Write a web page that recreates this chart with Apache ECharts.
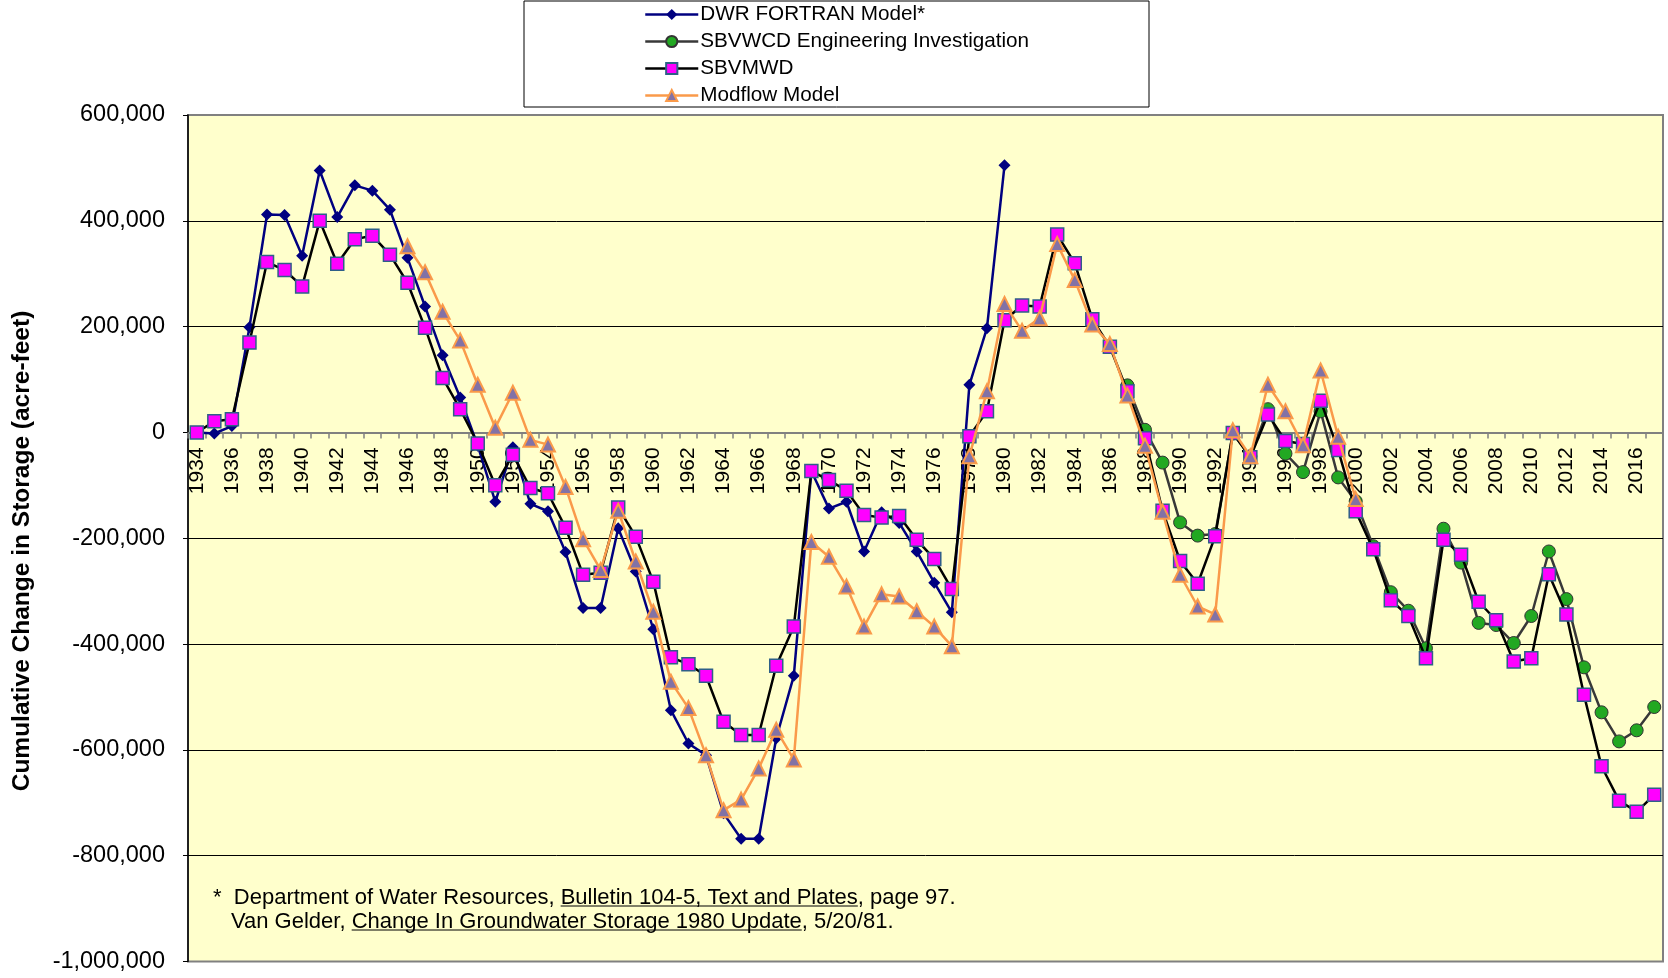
<!DOCTYPE html>
<html>
<head>
<meta charset="utf-8">
<script src="https://cdn.jsdelivr.net/npm/echarts@6/dist/echarts.min.js"></script>
<style>
html,body{margin:0;padding:0;background:#fff;}
#chart{width:1668px;height:978px;}
</style>
</head>
<body>
<div id="chart"></div>
<script>
const years = ['1934','1935','1936','1937','1938','1939','1940','1941','1942','1943','1944','1945','1946','1947','1948','1949',
'1950','1951','1952','1953','1954','1955','1956','1957','1958','1959','1960','1961','1962','1963','1964','1965','1966','1967','1968','1969',
'1970','1971','1972','1973','1974','1975','1976','1977','1978','1979','1980','1981','1982','1983','1984','1985','1986','1987','1988','1989',
'1990','1991','1992','1993','1994','1995','1996','1997','1998','1999','2000','2001','2002','2003','2004','2005','2006','2007','2008','2009',
'2010','2011','2012','2013','2014','2015','2016','2017'];

// DWR FORTRAN Model* : 1934-1980
const dwr = [0,-2000,12000,199000,412000,411000,334000,495000,407000,467000,457000,421000,330000,238000,146000,66000,
-25000,-131000,-28000,-135000,-149000,-226000,-332000,-332000,-181000,-263000,-372000,-525000,-588000,-610000,-720000,-768000,-768000,-578000,-460000,-73000,
-144000,-131000,-225000,-151000,-171000,-225000,-284000,-340000,90000,197000,505000];

// SBVWCD Engineering Investigation : 1987-2017
const sbvwcdStart = '1987';
const sbvwcd = [89000,5000,-57000,-170000,-195000,-192000,-2000,-45000,44000,-40000,-75000,40000,-85000,-130000,
-215000,-302000,-337000,-408000,-182000,-246000,-360000,-364000,-398000,-347000,-225000,-315000,-444000,-529000,-584000,-563000,-519000];

// SBVMWD : 1934-2017
const sbvmwd = [0,21000,25000,170000,322000,307000,276000,400000,319000,365000,372000,336000,283000,198000,103000,44000,
-21000,-100000,-42000,-105000,-115000,-180000,-269000,-265000,-142000,-197000,-282000,-425000,-438000,-460000,-547000,-572000,-572000,-441000,-367000,-73000,
-90000,-110000,-156000,-161000,-158000,-203000,-239000,-296000,-7000,40000,212000,240000,238000,374000,320000,214000,162000,78000,-11000,-148000,
-243000,-286000,-196000,-1000,-47000,34000,-16000,-22000,60000,-33000,-149000,-221000,-317000,-347000,-427000,-203000,-231000,-320000,-355000,-433000,
-427000,-268000,-344000,-496000,-631000,-696000,-717000,-685000];

// Modflow Model : 1946-2000
const modflowStart = '1946';
const modflow = [352000,303000,228000,174000,90000,9000,75000,-14000,-23000,-103000,-202000,-260000,-148000,-244000,
-339000,-471000,-521000,-610000,-714000,-694000,-635000,-562000,-618000,-207000,-235000,-291000,-367000,-306000,-310000,-338000,-367000,-404000,
-45000,78000,243000,192000,216000,356000,288000,204000,167000,70000,-25000,-150000,-269000,-329000,-344000,4000,-45000,90000,40000,-24000,117000,-8000,-126000];

const yTicks = {min:-1000000, max:600000, interval:200000};

function align(values, startYear){
  const out = new Array(years.length).fill(null);
  const s = years.indexOf(startYear);
  values.forEach((v,i)=>{ out[s+i] = v; });
  return out;
}

const FONT = '"Liberation Sans", Arial, sans-serif';
const chart = echarts.init(document.getElementById('chart'), null, {renderer:'canvas'});

const GRID = {left:188, right:5, top:115, bottom:16.5};
const plotH = 978 - GRID.top - GRID.bottom;
// distance from grid bottom up to the zero line
const zeroOffset = plotH * (0 - yTicks.min) / (yTicks.max - yTicks.min);

// footnote builder (underlined segments)
const cv = document.createElement('canvas').getContext('2d');
const fnSize = 22;
cv.font = fnSize + 'px ' + FONT;
function footLine(segs, x, y){
  const els = [];
  let cx = x;
  segs.forEach(([t,u])=>{
    const w = cv.measureText(t).width;
    els.push({type:'text', x:cx, y:y, style:{text:t, font:fnSize+'px '+FONT, fill:'#000', textAlign:'left', textVerticalAlign:'middle'}});
    if(u){
      els.push({type:'line', shape:{x1:cx, y1:y+8, x2:cx+w, y2:y+8}, style:{stroke:'#000', lineWidth:1.2}});
    }
    cx += w;
  });
  return els;
}
const foot = [].concat(
  footLine([['*  ',false],['Department of Water Resources, ',false],['Bulletin 104-5, Text and Plates',true],[', page 97.',false]], 213, 898),
  footLine([['Van Gelder, ',false],['Change In Groundwater Storage 1980 Update',true],[', 5/20/81.',false]], 231, 922)
);

const legendNames = ['DWR FORTRAN Model*','SBVWCD Engineering Investigation','SBVMWD','Modflow Model'];

const option = {
  animation:false,
  backgroundColor:'#ffffff',
  textStyle:{fontFamily:FONT},
  grid:{left:GRID.left, right:GRID.right, top:GRID.top, bottom:GRID.bottom, show:true, backgroundColor:'#FFFFCC', borderColor:'#808080', borderWidth:2, outerBoundsMode:'none', containLabel:false},
  legend:{
    orient:'vertical', left:644, top:4, itemWidth:53, itemHeight:14, itemGap:6,
    padding:0,
    textStyle:{fontSize:20.7, lineHeight:20, color:'#000', fontFamily:FONT, padding:[0,0,0,-3]},
    data:legendNames.map(n=>({name:n, lineStyle:{width:2.5}})),
    z:10
  },
  graphic:[
    {type:'rect', shape:{x:524, y:1, width:625, height:106}, style:{fill:'#fff', stroke:'#000', lineWidth:1}, z:1},
    {type:'text', x:22, y:551, rotation:Math.PI/2, style:{text:'Cumulative Change in Storage (acre-feet)', font:'bold 24.5px '+FONT, fill:'#000', textAlign:'center', textVerticalAlign:'middle'}}
  ].concat(foot),
  xAxis:{
    type:'category', data:years, boundaryGap:true,
    offset:-zeroOffset,
    axisLine:{onZero:false, lineStyle:{color:'#808080', width:2}},
    axisTick:{show:true, interval:0, length:6, lineStyle:{color:'#808080', width:1.5}},
    axisLabel:{interval:1, rotate:90, margin:15, fontSize:21, color:'#000', fontFamily:FONT},
    splitLine:{show:false}
  },
  yAxis:{
    type:'value', min:yTicks.min, max:yTicks.max, interval:yTicks.interval,
    axisLine:{show:true, lineStyle:{color:'#000', width:1.5}},
    axisTick:{show:true, length:5, lineStyle:{color:'#000'}},
    axisLabel:{margin:23, fontSize:23.5, color:'#000', fontFamily:FONT, formatter:v=>v.toLocaleString('en-US')},
    splitLine:{show:true, showMinLine:false, showMaxLine:false, lineStyle:{color:'#000', width:1}}
  },
  series:[
    {name:'DWR FORTRAN Model*', type:'line', data:dwr, symbol:'diamond', symbolSize:12, showAllSymbol:true,
      lineStyle:{color:'#000080', width:2.5}, itemStyle:{color:'#000080'}, z:2},
    {name:'SBVWCD Engineering Investigation', type:'line', data:align(sbvwcd, sbvwcdStart), symbol:'circle', symbolSize:13, showAllSymbol:true,
      lineStyle:{color:'#383838', width:2.5}, itemStyle:{color:'#22A822', borderColor:'#333', borderWidth:1}, z:3},
    {name:'SBVMWD', type:'line', data:sbvmwd, symbol:'rect', symbolSize:13, showAllSymbol:true,
      lineStyle:{color:'#000', width:2.5}, itemStyle:{color:'#FF00FF', borderColor:'#2E5F88', borderWidth:1.5}, z:4},
    {name:'Modflow Model', type:'line', data:align(modflow, modflowStart), symbol:'triangle', symbolSize:14, showAllSymbol:true,
      lineStyle:{color:'#FA9A4A', width:2.5}, itemStyle:{color:'#8272A6', borderColor:'#FA9A4A', borderWidth:2}, z:5}
  ]
};
chart.setOption(option);
</script>
</body>
</html>
